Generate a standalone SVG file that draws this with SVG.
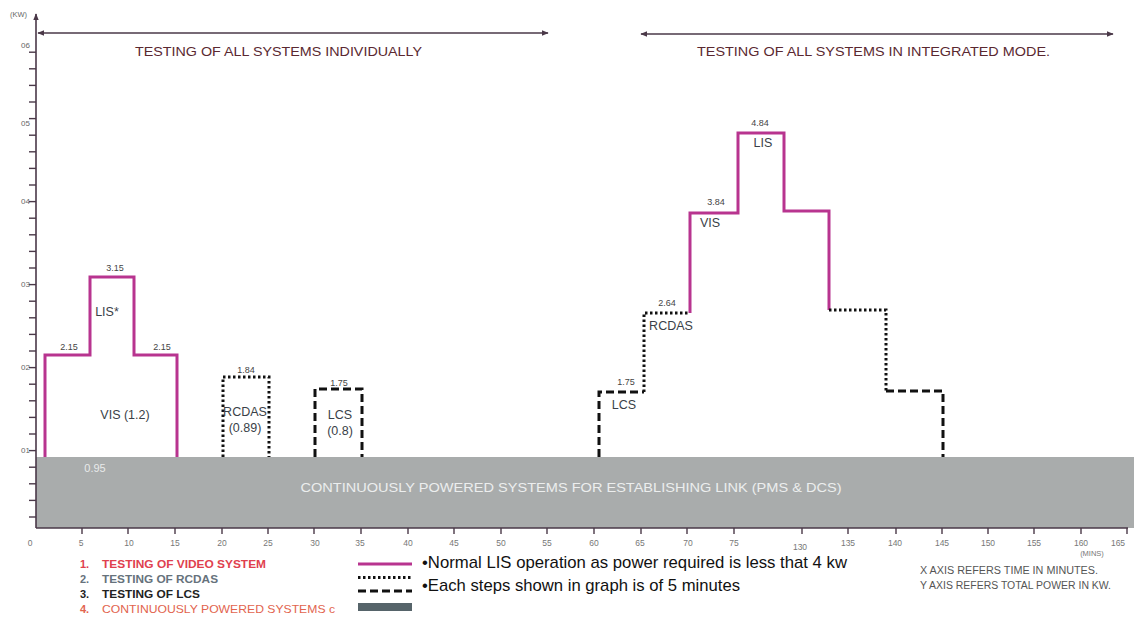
<svg xmlns="http://www.w3.org/2000/svg" width="1141" height="618" viewBox="0 0 1141 618">
<defs>
<marker id="ah" viewBox="0 0 10 10" refX="9" refY="5" markerWidth="7" markerHeight="7" orient="auto-start-reverse" markerUnits="userSpaceOnUse">
<path d="M0,1 L10,5 L0,9 Z" fill="#4a3848"/>
</marker>
<style>
text{font-family:"Liberation Sans",Arial,sans-serif}
.ax{stroke:#4a3848;stroke-width:1.6;fill:none}
.tk{stroke:#4a3848;stroke-width:1.4}
.yl{font-size:8px;fill:#666}
.xl{font-size:8.5px;fill:#777;text-anchor:middle}
.val{font-size:9px;fill:#444;text-anchor:middle}
.nm{font-size:12.5px;fill:#3a3f48;text-anchor:middle}
.ttl{font-size:13px;fill:#5a2830}
.vis{stroke:#b8348f;stroke-width:3;fill:none}
.dot{stroke:#111;stroke-width:3;fill:none;stroke-dasharray:2.5 2.5}
.dash{stroke:#111;stroke-width:3;fill:none;stroke-dasharray:8 4}
.leg{font-size:11px;font-weight:bold}
.note{font-size:17px;fill:#111}
.axn{font-size:10px;fill:#555}
</style>
</defs>
<rect width="1141" height="618" fill="#ffffff"/>

<g id="band">
<rect x="36" y="457" width="1098" height="71" fill="#a9acac"/>
<text x="571" y="492" font-size="13" fill="#eceeee" text-anchor="middle" textLength="541" lengthAdjust="spacingAndGlyphs">CONTINUOUSLY POWERED SYSTEMS FOR ESTABLISHING LINK (PMS &amp; DCS)</text>
<text x="95" y="472" font-size="11" fill="#e8eaea" text-anchor="middle">0.95</text>
</g>

<g id="axes">
<line class="ax" x1="36" y1="528" x2="36" y2="14" marker-end="url(#ah)"/>
<line class="ax" x1="36" y1="528" x2="1128" y2="528"/>
<text x="10" y="17" font-size="7.5" fill="#666">(KW)</text>
<g class="tk">
<line x1="29" y1="517" x2="36" y2="517"/><line x1="29" y1="500.4" x2="36" y2="500.4"/><line x1="29" y1="483.8" x2="36" y2="483.8"/><line x1="29" y1="467.2" x2="36" y2="467.2"/><line x1="29" y1="450.6" x2="36" y2="450.6"/>
<line x1="29" y1="434" x2="36" y2="434"/><line x1="29" y1="417.4" x2="36" y2="417.4"/><line x1="29" y1="400.8" x2="36" y2="400.8"/><line x1="29" y1="384.2" x2="36" y2="384.2"/><line x1="29" y1="367.6" x2="36" y2="367.6"/>
<line x1="29" y1="351" x2="36" y2="351"/><line x1="29" y1="334.4" x2="36" y2="334.4"/><line x1="29" y1="317.8" x2="36" y2="317.8"/><line x1="29" y1="301.2" x2="36" y2="301.2"/><line x1="29" y1="284.6" x2="36" y2="284.6"/>
<line x1="29" y1="268" x2="36" y2="268"/><line x1="29" y1="251.4" x2="36" y2="251.4"/><line x1="29" y1="234.8" x2="36" y2="234.8"/><line x1="29" y1="218.2" x2="36" y2="218.2"/><line x1="29" y1="201.6" x2="36" y2="201.6"/>
<line x1="29" y1="185" x2="36" y2="185"/><line x1="29" y1="168.4" x2="36" y2="168.4"/><line x1="29" y1="151.8" x2="36" y2="151.8"/><line x1="29" y1="135.2" x2="36" y2="135.2"/><line x1="29" y1="118.6" x2="36" y2="118.6"/>
<line x1="29" y1="102" x2="36" y2="102"/><line x1="29" y1="85.4" x2="36" y2="85.4"/><line x1="29" y1="68.8" x2="36" y2="68.8"/><line x1="29" y1="52.2" x2="36" y2="52.2"/>
</g>
<text class="yl" x="21" y="48">06</text>
<text class="yl" x="21" y="126">05</text>
<text class="yl" x="21" y="204">04</text>
<text class="yl" x="21" y="287">03</text>
<text class="yl" x="21" y="370">02</text>
<text class="yl" x="21" y="453">01</text>
<g class="tk">
<line x1="82" y1="528" x2="82" y2="534"/><line x1="128" y1="528" x2="128" y2="534"/><line x1="175" y1="528" x2="175" y2="534"/><line x1="222" y1="528" x2="222" y2="534"/><line x1="268" y1="528" x2="268" y2="534"/><line x1="314" y1="528" x2="314" y2="534"/><line x1="361" y1="528" x2="361" y2="534"/><line x1="408" y1="528" x2="408" y2="534"/><line x1="454" y1="528" x2="454" y2="534"/><line x1="501" y1="528" x2="501" y2="534"/><line x1="547" y1="528" x2="547" y2="534"/><line x1="594" y1="528" x2="594" y2="534"/><line x1="641" y1="528" x2="641" y2="534"/><line x1="687" y1="528" x2="687" y2="534"/><line x1="734" y1="528" x2="734" y2="534"/><line x1="802" y1="528" x2="802" y2="534"/><line x1="848" y1="528" x2="848" y2="534"/><line x1="896" y1="528" x2="896" y2="534"/><line x1="942" y1="528" x2="942" y2="534"/><line x1="988" y1="528" x2="988" y2="534"/><line x1="1034" y1="528" x2="1034" y2="534"/><line x1="1081" y1="528" x2="1081" y2="534"/><line x1="1127" y1="528" x2="1127" y2="534"/>
</g>
<text class="xl" x="30" y="546">0</text><text class="xl" x="81" y="546">5</text><text class="xl" x="129" y="546">10</text><text class="xl" x="175" y="546">15</text><text class="xl" x="222" y="546">20</text><text class="xl" x="268" y="546">25</text><text class="xl" x="315" y="546">30</text><text class="xl" x="360" y="546">35</text><text class="xl" x="408" y="546">40</text><text class="xl" x="454" y="546">45</text><text class="xl" x="501" y="546">50</text><text class="xl" x="547" y="546">55</text><text class="xl" x="594" y="546">60</text><text class="xl" x="640" y="546">65</text><text class="xl" x="688" y="546">70</text><text class="xl" x="734" y="546">75</text><text class="xl" x="800" y="550">130</text><text class="xl" x="848" y="546">135</text><text class="xl" x="895" y="546">140</text><text class="xl" x="942" y="546">145</text><text class="xl" x="988" y="546">150</text><text class="xl" x="1034" y="546">155</text><text class="xl" x="1081" y="546">160</text><text class="xl" x="1118" y="546">165</text>
<text x="1092" y="556" font-size="7.5" fill="#777" text-anchor="middle">(MINS)</text>
</g>

<g id="phase-individual">
<line class="ax" x1="38" y1="33" x2="548" y2="33" marker-start="url(#ah)" marker-end="url(#ah)"/>
<text class="ttl" x="135" y="56" textLength="287" lengthAdjust="spacingAndGlyphs">TESTING OF ALL SYSTEMS INDIVIDUALLY</text>
</g>
<g id="phase-integrated">
<line class="ax" x1="641" y1="34" x2="1113" y2="34" marker-start="url(#ah)" marker-end="url(#ah)"/>
<text class="ttl" x="697" y="56" textLength="353" lengthAdjust="spacingAndGlyphs">TESTING OF ALL SYSTEMS IN INTEGRATED MODE.</text>
</g>

<g id="connectors">
<path class="vis" d="M45,457 V355 H90 V277 H134 V355 H177 V457"/>
<path class="dot" d="M223,457 V377 H269 V457"/>
<path class="dash" d="M315,457 V389 H362 V457"/>
<path class="dash" d="M599,457 V392 H644"/>
<path class="dot" d="M644,392 V313 H690"/>
<path class="vis" d="M690,313 V213 H738 V133 H784 V211 H829 V310"/>
<path class="dot" d="M829,310 H886 V391"/>
<path class="dash" d="M886,391 H943 V457"/>
</g>

<g id="vis-individual">
<text class="val" x="69" y="350">2.15</text>
<text class="val" x="162" y="350">2.15</text>
<text class="val" x="115" y="271">3.15</text>
<text class="nm" x="107" y="316" font-size="11">LIS*</text>
<text class="nm" x="125" y="419">VIS (1.2)</text>
</g>
<g id="rcdas-individual">
<text class="val" x="246" y="373">1.84</text>
<text class="nm" x="245" y="416">RCDAS</text>
<text class="nm" x="245" y="432">(0.89)</text>
</g>
<g id="lcs-individual">
<text class="val" x="339" y="386">1.75</text>
<text class="nm" x="340" y="419">LCS</text>
<text class="nm" x="340" y="435">(0.8)</text>
</g>
<g id="integrated">
<text class="val" x="626" y="385">1.75</text>
<text class="nm" x="624" y="409">LCS</text>
<text class="val" x="667" y="306">2.64</text>
<text class="nm" x="671" y="330">RCDAS</text>
<text class="val" x="716" y="205">3.84</text>
<text class="nm" x="710" y="227">VIS</text>
<text class="val" x="760" y="126">4.84</text>
<text class="nm" x="763" y="147">LIS</text>
</g>

<g id="legend">
<text class="leg" x="80" y="568" fill="#e0404e">1.</text><text class="leg" x="102" y="568" fill="#e0404e" textLength="164" lengthAdjust="spacingAndGlyphs">TESTING OF VIDEO SYSTEM</text>
<text class="leg" x="80" y="583" fill="#66727c">2.</text><text class="leg" x="102" y="583" fill="#66727c" textLength="116" lengthAdjust="spacingAndGlyphs">TESTING OF RCDAS</text>
<text class="leg" x="80" y="598" fill="#222">3.</text><text class="leg" x="102" y="598" fill="#222" textLength="98" lengthAdjust="spacingAndGlyphs">TESTING OF LCS</text>
<text class="leg" x="80" y="613" fill="#e2644e" font-weight="normal">4.</text><text x="102" y="613" font-size="11" fill="#e2644e" textLength="233" lengthAdjust="spacingAndGlyphs">CONTINUOUSLY POWERED SYSTEMS  c</text>
<line class="vis" x1="358" y1="564" x2="412" y2="564"/>
<line class="dot" x1="358" y1="577.5" x2="412" y2="577.5" stroke-width="2.5"/>
<line class="dash" x1="358" y1="591" x2="412" y2="591" stroke-width="2.5"/>
<rect x="358" y="603" width="54" height="8" fill="#56646a"/>
<text class="note" x="422" y="568" textLength="425" lengthAdjust="spacingAndGlyphs">•Normal LIS operation as power required is less that 4 kw</text>
<text class="note" x="422" y="591" textLength="318" lengthAdjust="spacingAndGlyphs">•Each steps shown in graph is of 5 minutes</text>
<text class="axn" x="920" y="574" textLength="178" lengthAdjust="spacingAndGlyphs">X AXIS REFERS TIME  IN MINUTES.</text>
<text class="axn" x="920" y="589" textLength="191" lengthAdjust="spacingAndGlyphs">Y AXIS REFERS TOTAL POWER IN KW.</text>
</g>
</svg>
